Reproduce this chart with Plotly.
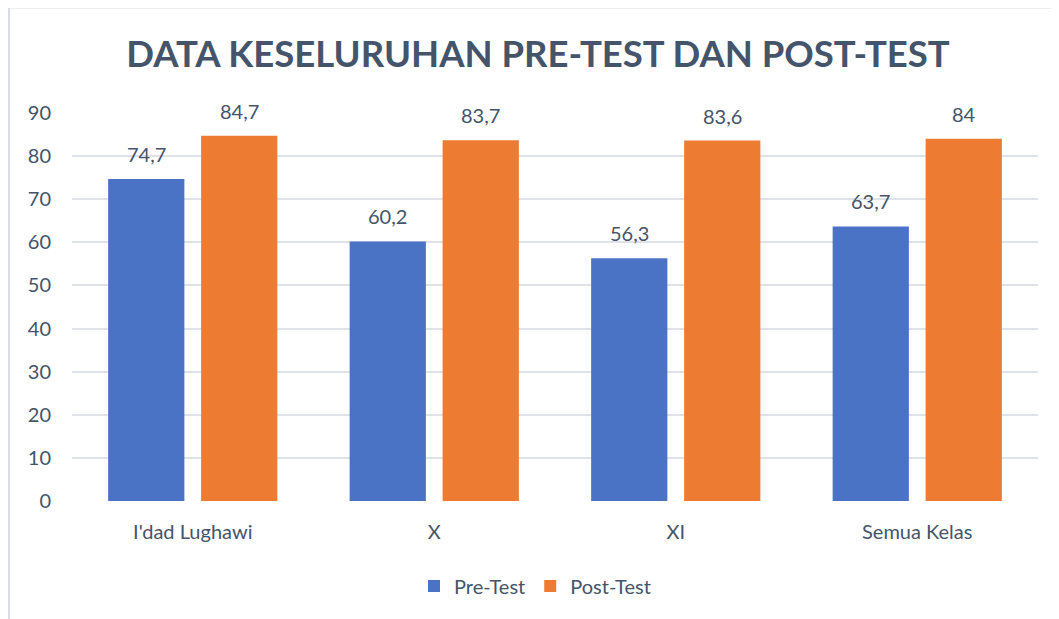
import plotly.graph_objects as go

categories = ["I'dad Lughawi", "X", "XI", "Semua Kelas"]
pre_test = [74.7, 60.2, 56.3, 63.7]
post_test = [84.7, 83.7, 83.6, 84.0]
y_ticks = [0, 10, 20, 30, 40, 50, 60, 70, 80, 90]

TEXT = "#44546a"
FONT = "Lato"
BLUE = "#4a73c5"
ORANGE = "#ed7b32"

OFF = 8  # page body margin


def fmt(v):
    s = ("%.1f" % v).rstrip("0").rstrip(".")
    return s.replace(".", ",")


fig = go.Figure()
fig.add_trace(go.Bar(name="Pre-Test", x=categories, y=pre_test,
                     marker=dict(color=BLUE, line=dict(width=0))))
fig.add_trace(go.Bar(name="Post-Test", x=categories, y=post_test,
                     marker=dict(color=ORANGE, line=dict(width=0))))

W, H = 1059 - OFF, 619 - OFF
L, T = 72 - OFF, 113 - OFF
R = (1059 - 1038)
B = 619 - 501
pw, ph = W - L - R, H - T - B

annotations = []
slot_px = 93 / 2
for i, c in enumerate(categories):
    for vals, sh in ((pre_test, -slot_px), (post_test, slot_px)):
        annotations.append(dict(x=c, y=vals[i], xref="x", yref="y", text=fmt(vals[i]),
                                showarrow=False, xshift=sh, yshift=11, yanchor="bottom",
                                font=dict(family=FONT, size=20, color=TEXT)))

shapes = [
    dict(type="line", xref="paper", yref="paper",
         x0=(0 - L) / pw, x1=(W + 5 - L) / pw, y0=(H - B + 0.5) / ph, y1=(H - B + 0.5) / ph,
         line=dict(color="#d9dde3", width=2)),
    dict(type="line", xref="paper", yref="paper",
         x0=(1 - L) / pw, x1=(1 - L) / pw, y0=(H - B + 1) / ph, y1=(-B - 5) / ph,
         line=dict(color="#d9dde3", width=2)),
]

fig.update_layout(
    width=W, height=H,
    margin=dict(l=L, r=R, t=T, b=B),
    paper_bgcolor="white", plot_bgcolor="white",
    barmode="group", bargap=0.23, bargroupgap=0.18,
    title=dict(text="<b>DATA KESELURUHAN PRE-TEST DAN POST-TEST</b>",
               x=(538 - OFF) / W, xref="container", xanchor="center",
               y=1 - (54 - OFF) / H, yref="container", yanchor="middle",
               font=dict(family=FONT, size=36.5, color=TEXT)),
    font=dict(family=FONT, color=TEXT),
    legend=dict(orientation="h", x=(535 - OFF) / W, xanchor="center", y=1 - (586 - OFF) / H,
                yanchor="middle", xref="container", yref="container",
                font=dict(family=FONT, size=20, color=TEXT), traceorder="normal",
                itemwidth=30),
    annotations=annotations,
    shapes=shapes,
    xaxis=dict(showgrid=False, showline=False, zeroline=False, ticks="",
               tickfont=dict(family=FONT, size=20, color=TEXT), ticklabelstandoff=17),
    yaxis=dict(range=[0, 90], tickvals=y_ticks, showgrid=True, gridcolor="#dfe3e8",
               gridwidth=1.5, zeroline=False, showline=False, ticks="",
               tickfont=dict(family=FONT, size=20, color=TEXT), ticklabelstandoff=20),
)

fig.write_html("out.html")
